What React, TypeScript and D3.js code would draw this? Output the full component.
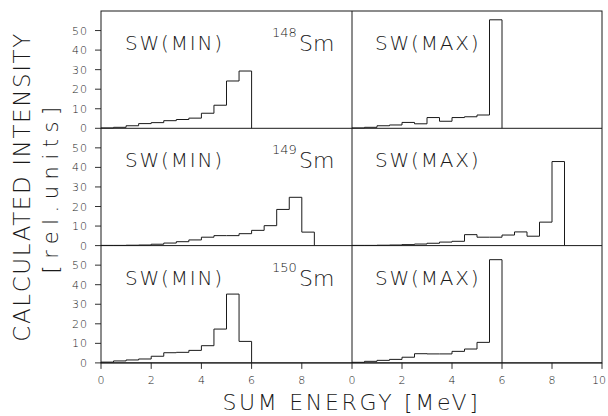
import React from 'react'
import * as d3 from 'd3'

// bin width of the histograms in MeV, bins start at 0
const binWidth = 0.5
const isotopes = ['148', '149', '150']
const swMin = [
  [0.2, 0.5, 1.3, 2.4, 2.9, 3.9, 4.5, 5.2, 7.7, 11.8, 24.2, 29.3],
  [0.1, 0.1, 0.2, 0.3, 0.7, 1.3, 2.0, 2.9, 4.3, 5.1, 5.1, 6.1, 7.8, 10.2, 18.5, 24.7, 6.9],
  [0.4, 1.0, 1.5, 2.0, 3.4, 5.2, 5.4, 6.4, 8.8, 17.3, 35.2, 11.0],
]
const swMax = [
  [0.2, 0.5, 1.3, 1.7, 3.0, 2.3, 5.5, 3.6, 5.5, 5.9, 6.8, 55.5],
  [0.1, 0.1, 0.2, 0.3, 0.5, 0.8, 1.2, 1.8, 2.2, 5.6, 4.3, 4.3, 5.4, 7.0, 4.8, 12.0, 43.0],
  [0.3, 0.8, 1.3, 1.8, 2.9, 4.7, 4.6, 4.6, 5.9, 7.1, 10.5, 52.8],
]
const yTicks = [0, 10, 20, 30, 40, 50]
const xTicksLeft = [0, 2, 4, 6, 8]
const xTicksRight = [0, 2, 4, 6, 8, 10]

const width = 608
const height = 416
const left = 101, mid = 352, right = 602
const top = 11, rowH = 117.3
const ink = '#1a1a1a'
const font = '"DejaVu Sans", sans-serif'

function stepPoints(vals: number[]): [number, number][] {
  const pts: [number, number][] = [[0, 0]]
  vals.forEach((v, i) => {
    pts.push([i * binWidth, v])
    pts.push([(i + 1) * binWidth, v])
  })
  pts.push([vals.length * binWidth, 0])
  return pts
}

export default function App() {
  const xL = d3.scaleLinear().domain([0, 10]).range([left, mid])
  const xR = d3.scaleLinear().domain([0, 10]).range([mid, right])
  const bottom = top + 3 * rowH
  const midY = (top + bottom) / 2

  const panels = isotopes.map((iso, r) => {
    const y = d3.scaleLinear().domain([0, 60]).range([top + (r + 1) * rowH, top + r * rowH])
    const lineL = d3.line<[number, number]>().x(d => xL(d[0])).y(d => y(d[1]))
    const lineR = d3.line<[number, number]>().x(d => xR(d[0])).y(d => y(d[1]))
    const rt = top + r * rowH
    return (
      <g key={iso}>
        {yTicks.map(t => (
          <g key={t}>
            <line x1={left - 6} x2={left} y1={y(t)} y2={y(t)} stroke={ink} strokeWidth={0.9} />
            <text x={left - 13} y={y(t) + 4} textAnchor="end" fontSize={11} fontWeight={300}
              letterSpacing={1} fill={ink}>{t}</text>
          </g>
        ))}
        <path d={lineL(stepPoints(swMin[r])) || ''} fill="none" stroke={ink} strokeWidth={1} />
        <path d={lineR(stepPoints(swMax[r])) || ''} fill="none" stroke={ink} strokeWidth={1} />
        <text x={125} y={rt + 39} fontSize={20} fontWeight={200} letterSpacing={1.8} fill={ink}>SW(MIN)</text>
        <text x={375} y={rt + 39} fontSize={20} fontWeight={200} letterSpacing={1.8} fill={ink}>SW(MAX)</text>
        <text x={272} y={rt + 26} fontSize={13} fontWeight={300} fill={ink}>{iso}</text>
        <text x={299} y={rt + 40} fontSize={22} fontWeight={200} fill={ink}>Sm</text>
        <line x1={left} x2={right} y1={y(0)} y2={y(0)} stroke={ink} strokeWidth={1} />
      </g>
    )
  })

  return (
    <svg width={width} height={height} style={{ position: 'absolute', left: 0, top: 0, background: '#fff' }}
      fontFamily={font}>
      <rect x={left} y={top} width={right - left} height={bottom - top} fill="none" stroke={ink} strokeWidth={1} />
      <line x1={mid} x2={mid} y1={top} y2={bottom} stroke={ink} strokeWidth={1} />
      {panels}
      {xTicksLeft.map(t => (
        <g key={'l' + t}>
          <line x1={xL(t)} x2={xL(t)} y1={bottom} y2={bottom + 6} stroke={ink} strokeWidth={0.9} />
          <text x={xL(t)} y={bottom + 21} textAnchor="middle" fontSize={11} fontWeight={300} fill={ink}>{t}</text>
        </g>
      ))}
      {xTicksRight.map(t => (
        <g key={'r' + t}>
          <line x1={xR(t)} x2={xR(t)} y1={bottom} y2={bottom + 6} stroke={ink} strokeWidth={0.9} />
          <text x={t === 10 ? width - 2 : xR(t)} y={bottom + 21} textAnchor={t === 10 ? 'end' : 'middle'}
            fontSize={11} fontWeight={300} fill={ink}>{t}</text>
        </g>
      ))}
      <text x={(left + right) / 2} y={410} textAnchor="middle" fontSize={22} fontWeight={200} letterSpacing={2.7}
        fill={ink}>SUM ENERGY [MeV]</text>
      <text transform={`translate(30,${midY}) rotate(-90)`} textAnchor="middle" fontSize={23} fontWeight={200}
        letterSpacing={1.6} fill={ink}>CALCULATED INTENSITY</text>
      <text transform={`translate(58,${midY}) rotate(-90)`} textAnchor="middle" fontSize={21} fontWeight={200}
        letterSpacing={6.5} fill={ink}>[rel.units]</text>
    </svg>
  )
}
